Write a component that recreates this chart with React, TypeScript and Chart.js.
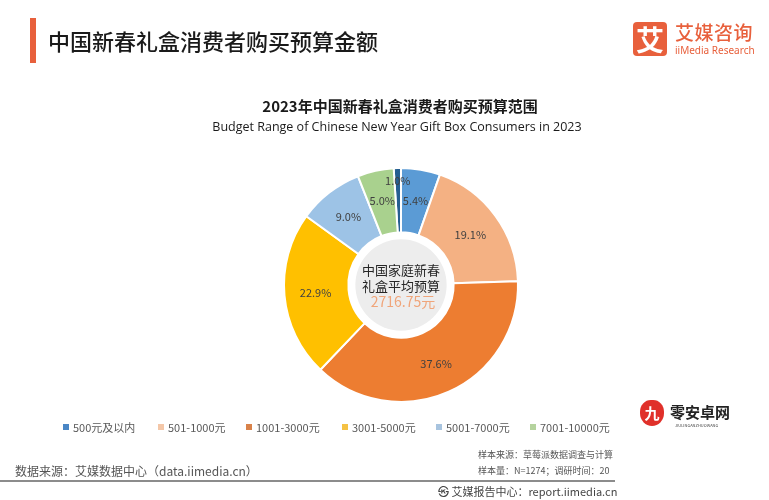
import React, { useEffect, useRef } from "react";
import { Chart, registerables } from "chart.js";

Chart.register(...registerables);

const categories = ["500元及以内", "10000元以上", "501-1000元", "1001-3000元", "3001-5000元", "5001-7000元", "7001-10000元"];
const shares = [1.0, 5.4, 19.1, 37.6, 22.9, 9.0, 5.0];
const sliceColors = ["#255E91", "#5B9BD5", "#F4B183", "#ED7D31", "#FFC000", "#9DC3E6", "#A9D18E"];
const legendCategories = ["500元及以内", "501-1000元", "1001-3000元", "3001-5000元", "5001-7000元", "7001-10000元"];
const legendColors = ["#4A86C5", "#F4C7A8", "#D9824A", "#F5C244", "#A8C4DF", "#B5D39E"];
const averageLabel = ["中国家庭新春", "礼盒平均预算"];
const averageValue = "2716.75元";

const CJK = '"Noto Sans CJK SC", "Noto Sans", sans-serif';

const labelPlugin = {
  id: "sliceLabels",
  afterDatasetsDraw(chart: any) {
    const { ctx } = chart;
    const meta = chart.getDatasetMeta(0);
    const data = chart.data.datasets[0].data as number[];
    ctx.save();
    ctx.font = `11px ${CJK}`;
    ctx.fillStyle = "#404040";
    ctx.textAlign = "center";
    ctx.textBaseline = "middle";
    meta.data.forEach((arc: any, i: number) => {
      const { startAngle, endAngle, innerRadius, outerRadius, x, y } = arc.getProps(
        ["startAngle", "endAngle", "innerRadius", "outerRadius", "x", "y"], true);
      const mid = (startAngle + endAngle) / 2;
      const small = data[i] < 2;
      const r = small ? outerRadius - 13 : (innerRadius + outerRadius) / 2 + 1;
      ctx.fillText(data[i].toFixed(1) + "%", x + Math.cos(mid) * r, y + Math.sin(mid) * r);
    });
    // centre disc
    const a = meta.data[0];
    const cx = a.x, cy = a.y;
    ctx.beginPath();
    ctx.arc(cx, cy, a.innerRadius - 7, 0, Math.PI * 2);
    ctx.fillStyle = "#EDEDED";
    ctx.fill();
    ctx.font = `13px ${CJK}`;
    ctx.fillStyle = "#262626";
    ctx.fillText(averageLabel[0], cx, cy - 15);
    ctx.fillText(averageLabel[1], cx, cy + 1);
    ctx.font = `14px ${CJK}`;
    ctx.fillStyle = "#F0A57A";
    ctx.fillText(averageValue, cx + 2, cy + 17);
    ctx.restore();
  },
};

export default function App() {
  const ref = useRef<HTMLCanvasElement>(null);
  useEffect(() => {
    if (!ref.current) return;
    const chart = new Chart(ref.current, {
      type: "doughnut",
      data: {
        labels: categories,
        datasets: [{
          data: shares,
          backgroundColor: sliceColors,
          borderColor: "#FFFFFF",
          borderWidth: 2,
        }],
      },
      options: {
        responsive: false,
        animation: false,
        cutout: "45%",
        rotation: -3.6,
        layout: { padding: { left: 283, right: 250, top: 167, bottom: 97 } },
        plugins: {
          legend: { display: false },
          tooltip: { enabled: false },
          title: { display: false },
        },
      },
      plugins: [labelPlugin],
    });
    return () => chart.destroy();
  }, []);

  const abs = (s: React.CSSProperties): React.CSSProperties => ({ position: "absolute", whiteSpace: "nowrap", ...s });

  return (
    <div style={{ position: "absolute", left: 0, top: 0, width: 769, height: 500, background: "#fff", fontFamily: CJK, overflow: "hidden" }}>
      <canvas ref={ref} width={769} height={500} style={{ position: "absolute", left: 0, top: 0 }} />
      <div style={abs({ left: 30, top: 18, width: 6, height: 45, background: "#E8603C" })} />
      <div style={abs({ left: 48, top: 24, fontSize: 22, color: "#1a1a1a", lineHeight: "32px", fontWeight: 500 })}>中国新春礼盒消费者购买预算金额</div>
      <div style={abs({ left: 633, top: 22, width: 34, height: 34, background: "#E8603C", borderRadius: 4, color: "#fff", fontSize: 28, fontWeight: 700, lineHeight: "34px", textAlign: "center" })}>艾</div>
      <div style={abs({ left: 675, top: 19, fontSize: 19, color: "#E8603C", lineHeight: "26px", fontWeight: 500, letterSpacing: 0.5 })}>艾媒咨询</div>
      <div style={abs({ left: 675, top: 43, fontSize: 10, color: "#E8603C", lineHeight: "14px", fontFamily: '"Noto Sans", sans-serif' })}>iiMedia Research</div>
      <div style={abs({ left: 0, width: 800, top: 95, textAlign: "center", fontSize: 15, fontWeight: 700, color: "#1a1a1a", lineHeight: "22px" })}>2023年中国新春礼盒消费者购买预算范围</div>
      <div style={abs({ left: 0, width: 794, top: 118, textAlign: "center", fontSize: 12.5, color: "#1a1a1a", lineHeight: "18px", fontFamily: '"Open Sans", "Noto Sans", sans-serif' })}>Budget Range of Chinese New Year Gift Box Consumers in 2023</div>
      {legendCategories.map((c, i) => (
        <div key={c} style={abs({ left: 63 + [0, 95, 183, 279, 373, 467][i], top: 419, fontSize: 11, color: "#595959", lineHeight: "16px", display: "flex", alignItems: "center" })}>
          <span style={{ display: "inline-block", width: 6, height: 6, background: legendColors[i], marginRight: 4 }} />
          {c}
        </div>
      ))}
      <div style={abs({ left: 640, top: 400, width: 24, height: 26, background: "#E0302A", borderRadius: "45% 45% 50% 50%", color: "#fff", fontSize: 15, lineHeight: "26px", textAlign: "center", fontWeight: 700 })}>九</div>
      <div style={abs({ left: 670, top: 403, fontSize: 15, color: "#222", lineHeight: "18px", fontWeight: 700, letterSpacing: 0 })}>零安卓网</div>
      <div style={abs({ left: 675, top: 423, fontSize: 4, color: "#444", lineHeight: "5px" })}>JIULINGANZHUOWANG</div>
      <div style={abs({ left: 15, top: 462, fontSize: 12, color: "#555", lineHeight: "18px" })}>数据来源：艾媒数据中心（data.iimedia.cn）</div>
      <div style={abs({ left: 478, top: 448, fontSize: 9, color: "#555", lineHeight: "14px" })}>样本来源：草莓派数据调查与计算</div>
      <div style={abs({ left: 478, top: 464, fontSize: 9, color: "#555", lineHeight: "14px" })}>样本量：N=1274；调研时间：20</div>
      <div style={abs({ left: 0, top: 480, width: 615, height: 2, background: "#8C8C8C" })} />
      <div style={abs({ left: 438, top: 483, fontSize: 11, color: "#444", lineHeight: "16px" })}>㉿ 艾媒报告中心：report.iimedia.cn</div>
    </div>
  );
}
